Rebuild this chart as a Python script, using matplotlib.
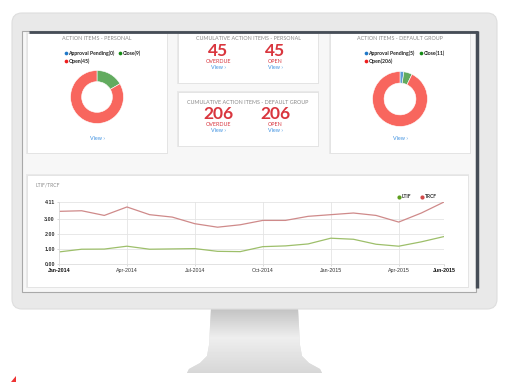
import numpy as np
import matplotlib
matplotlib.use("Agg")
import matplotlib.pyplot as plt
from matplotlib.patches import FancyBboxPatch, Rectangle, Polygon

plt.rcParams['font.family'] = ['Lato', 'DejaVu Sans']

W, H = 512, 382

# donut panels
donut_labels = ['Approval Pending', 'Close', 'Open']
personal_counts = [0, 9, 45]
group_counts = [5, 11, 206]
donut_colors = ['#5b9bd5', '#62ab5f', '#f8665e']
legend_dot_colors = ['#1f78c8', '#138a13', '#ee1c1c']

# cumulative counters
personal_overdue, personal_open = 45, 45
group_overdue, group_open = 206, 206

# LTIF / TRCF monthly series, Jan-2014 .. Jun-2015
months = ['Jan-2014', 'Feb-2014', 'Mar-2014', 'Apr-2014', 'May-2014', 'Jun-2014',
          'Jul-2014', 'Aug-2014', 'Sep-2014', 'Oct-2014', 'Nov-2014', 'Dec-2014',
          'Jan-2015', 'Feb-2015', 'Mar-2015', 'Apr-2015', 'May-2015', 'Jun-2015']
trcf = [3.49, 3.53, 3.22, 3.78, 3.27, 3.11, 2.67, 2.44, 2.60, 2.89, 2.89, 3.16,
        3.27, 3.38, 3.22, 2.78, 3.38, 4.11]
ltif = [0.80, 0.98, 0.99, 1.18, 0.98, 1.00, 1.02, 0.84, 0.82, 1.15, 1.20, 1.33,
        1.71, 1.64, 1.31, 1.18, 1.47, 1.82]
tick_months = ['Jan-2014', 'Apr-2014', 'Jul-2014', 'Oct-2014', 'Jan-2015', 'Apr-2015', 'Jun-2015']
y_ticks = [0.0, 1.0, 2.0, 3.0, 4.11]


def frac(x0, y0, x1, y1):
    return [x0 / W, 1 - y1 / H, (x1 - x0) / W, (y1 - y0) / H]


fig = plt.figure(figsize=(W / 100, H / 100), dpi=100)
bg = fig.add_axes([0, 0, 1, 1])
bg.axis('off')

# monitor stand with a soft gradient
stand = [(211, 308), (298, 308), (300, 345), (302, 356), (309, 363), (320, 369),
         (322, 373), (187, 373), (189, 369), (200, 363), (207, 356), (209, 345)]
stand_poly = Polygon(stand, closed=True, facecolor='#e2e2e2', edgecolor='none')
bg.add_patch(stand_poly)
grad = np.concatenate([np.linspace(0.76, 0.93, 30), np.linspace(0.93, 0.84, 36)])
img = bg.imshow(np.tile(grad[:, None], (1, 10)), cmap='gray', vmin=0, vmax=1,
                extent=[185, 325, 374, 308], aspect='auto', zorder=1)
img.set_clip_path(stand_poly)

# bezel
bg.add_patch(FancyBboxPatch((12, 13), 485, 296, boxstyle='round,pad=0,rounding_size=10',
                            facecolor='#e9e9e9', edgecolor='#dedede', lw=0.8, zorder=2))
# screen
bg.add_patch(Rectangle((22, 31), 454, 261, facecolor='#f7f7f7', edgecolor='#a9a9a9', lw=0.8, zorder=3))
bg.plot([29, 478], [32, 32], color='#464d57', lw=2, zorder=5, solid_capstyle='butt')
bg.plot([477, 477], [31, 288], color='#464d57', lw=2.5, zorder=5, solid_capstyle='butt')

# small red mark in the corner
bg.add_patch(Polygon([(11, 382), (16, 376), (16, 382)], facecolor='#e33', edgecolor='none', zorder=2))


def panel(x0, y0, x1, y1):
    bg.add_patch(Rectangle((x0 - 1, y0 - 1), x1 - x0 + 2, y1 - y0 + 2, facecolor='#e9e9e9',
                           edgecolor='none', zorder=3.5))
    bg.add_patch(Rectangle((x0, y0), x1 - x0, y1 - y0, facecolor='white', edgecolor='#e2e2e2',
                           lw=0.6, zorder=4))


title_kw = dict(color='#8a8a8a', fontsize=3.9, ha='center', va='center', zorder=6)
view_kw = dict(color='#3b8fe0', fontsize=3.9, ha='center', va='center', zorder=6)

panel(27, 33, 167, 153)
panel(178, 33, 318, 83)
panel(178, 92, 318, 146)
panel(330, 33, 470, 153)
panel(27, 175, 468, 287)


def donut_panel(cx, title, counts, legend_x, green_x, box):
    bg.text(cx, 39, title, **title_kw)
    names = ['%s(%d)' % (n, c) for n, c in zip(donut_labels, counts)]
    pos = [(legend_x, 53), (green_x, 53), (legend_x, 61)]
    for (px, py), name, col in zip(pos, names, legend_dot_colors):
        bg.scatter([px], [py], s=7, color=col, zorder=6, linewidths=0)
        bg.text(px + 2.5, py, name, fontsize=3.7, fontweight='bold', color='#222',
                ha='left', va='center', zorder=6)
    ax = fig.add_axes(frac(*box))
    ax.pie(counts, colors=donut_colors, startangle=90, counterclock=False, radius=1,
           wedgeprops=dict(width=0.42, edgecolor='white', linewidth=0.4))
    ax.set_xlim(-1.02, 1.02)
    ax.set_ylim(-1.02, 1.02)
    ax.axis('off')
    bg.text(cx, 138, 'View ›', **view_kw)


donut_panel(97, 'ACTION ITEMS - PERSONAL', personal_counts, 66, 120, (70, 70, 124, 124))
donut_panel(400, 'ACTION ITEMS - DEFAULT GROUP', group_counts, 366, 421, (372, 71, 428, 127))


def counter_panel(title, ty, overdue, opened):
    bg.text(248, ty, title, **title_kw)
    for x, val, lab in [(218, overdue, 'OVERDUE'), (275, opened, 'OPEN')]:
        bg.text(x, ty + 12, str(val), color='#d9363e', fontsize=12.5, fontweight='bold',
                ha='center', va='center', zorder=6)
        bg.text(x, ty + 22.5, lab, color='#d9363e', fontsize=3.9, ha='center', va='center', zorder=6)
        bg.text(x, ty + 28.5, 'View ›', **view_kw)


counter_panel('CUMULATIVE ACTION ITEMS - PERSONAL', 39, personal_overdue, personal_open)
counter_panel('CUMULATIVE ACTION ITEMS - DEFAULT GROUP', 102, group_overdue, group_open)

# line chart
bg.text(35, 185, 'LTIF/TRCF', color='#8a8a8a', fontsize=3.6, ha='left', va='center', zorder=6)
for x, lab, col in [(399, 'LTIF', '#5e9e1e'), (422, 'TRCF', '#d24a4a')]:
    bg.scatter([x], [197], s=9, color=col, zorder=6, linewidths=0)
    bg.text(x + 3, 197, lab, fontsize=3.6, fontweight='bold', color='#333', ha='left', va='center', zorder=6)

bg.set_xlim(0, W)
bg.set_ylim(H, 0)

lc = fig.add_axes(frac(59, 202, 444, 264))
lc.set_facecolor('none')
x = np.arange(len(months))
lc.plot(x, trcf, color='#cf8a8a', lw=0.9)
lc.plot(x, ltif, color='#9dbf6a', lw=0.9)
lc.set_xlim(0, len(months) - 1)
lc.set_ylim(0, 4.11)
lc.set_yticks(y_ticks)
lc.set_yticklabels(['%.2f' % v for v in y_ticks], fontsize=3.9, fontweight='bold',
                   family=['Liberation Sans', 'DejaVu Sans'])
tick_pos = [months.index(m) for m in tick_months]
lc.set_xticks(tick_pos)
lc.set_xticklabels(tick_months, fontsize=3.8, family=['Liberation Sans', 'DejaVu Sans'])
for i in (0, -1):
    lc.get_xticklabels()[i].set_fontweight('bold')
lc.grid(True, color='#e4e4e4', lw=0.6)
lc.tick_params(length=1.5, width=0.4, pad=1.5, colors='#bbb', labelcolor='#333')
for i in (0, -1):
    lc.get_xticklabels()[i].set_color('#111')
for s in ['top', 'right']:
    lc.spines[s].set_visible(False)
for s in ['left', 'bottom']:
    lc.spines[s].set_color('#dddddd')
    lc.spines[s].set_linewidth(0.6)

fig.savefig('out.png', dpi=100)
